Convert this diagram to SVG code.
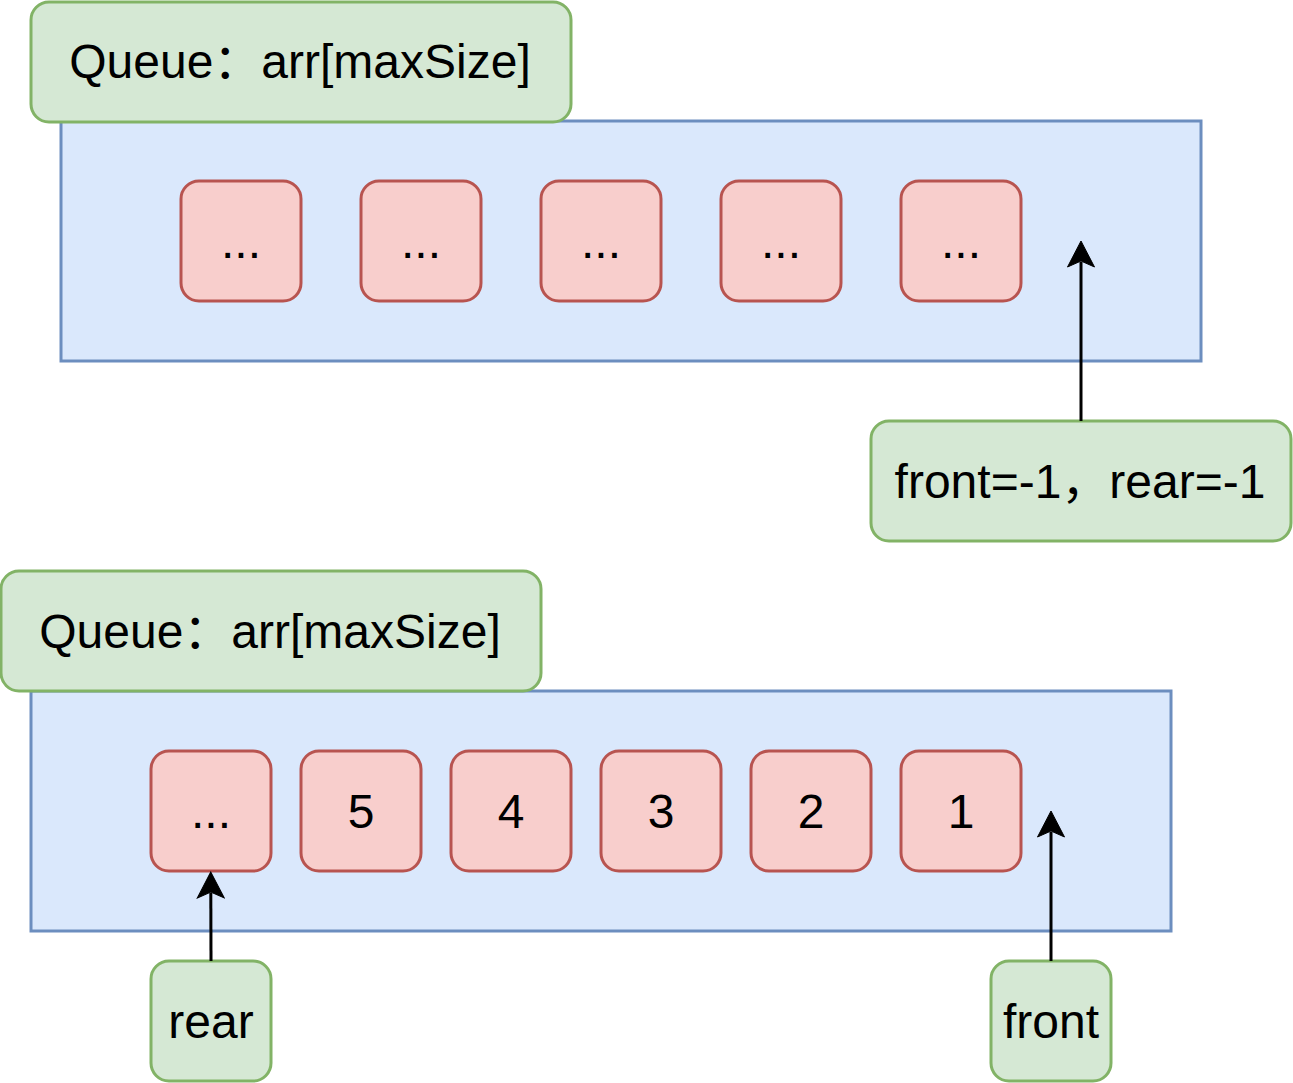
<svg xmlns="http://www.w3.org/2000/svg" width="1293" height="1083" viewBox="0 0 1293 1083">
  <style>
    .green { fill: #d5e8d4; stroke: #82b366; stroke-width: 3; }
    .blue { fill: #dae8fc; stroke: #6c8ebf; stroke-width: 3; }
    .red { fill: #f8cecc; stroke: #b85450; stroke-width: 3; }
    .t { font-family: "Liberation Sans", "Noto Sans CJK SC", sans-serif; font-size: 48px; fill: #000000; text-anchor: middle; }
    .edge { fill: none; stroke: #000000; stroke-width: 3; }
  </style>
  <defs>
    <marker id="arrow" markerUnits="userSpaceOnUse" markerWidth="28" markerHeight="29" viewBox="0 0 28 29" refX="6" refY="14.5" orient="auto">
      <path d="M1,1 L27,14.5 L1,28 L7,14.5 Z" fill="#000000" stroke="#000000" stroke-width="1"/>
    </marker>
  </defs>

  <rect width="1293" height="1083" fill="#ffffff"/>

  <!-- Top queue -->
  <g id="queue1">
    <rect class="blue" x="61" y="121" width="1140" height="240"/>
  </g>
  <g id="queue1-label">
    <rect class="green" x="31" y="2" width="540" height="120" rx="18" ry="18"/>
    <text class="t" x="300" y="78">Queue：arr[maxSize]</text>
  </g>
  <g id="q1-cell1">
    <rect class="red" x="181" y="181" width="120" height="120" rx="18" ry="18"/>
    <text class="t" x="241" y="258">...</text>
  </g>
  <g id="q1-cell2">
    <rect class="red" x="361" y="181" width="120" height="120" rx="18" ry="18"/>
    <text class="t" x="421" y="258">...</text>
  </g>
  <g id="q1-cell3">
    <rect class="red" x="541" y="181" width="120" height="120" rx="18" ry="18"/>
    <text class="t" x="601" y="258">...</text>
  </g>
  <g id="q1-cell4">
    <rect class="red" x="721" y="181" width="120" height="120" rx="18" ry="18"/>
    <text class="t" x="781" y="258">...</text>
  </g>
  <g id="q1-cell5">
    <rect class="red" x="901" y="181" width="120" height="120" rx="18" ry="18"/>
    <text class="t" x="961" y="258">...</text>
  </g>
  <g id="pointers1">
    <rect class="green" x="871" y="421" width="420" height="120" rx="18" ry="18"/>
    <text class="t" x="1080" y="498">front=-1，rear=-1</text>
  </g>

  <!-- Bottom queue -->
  <g id="queue2">
    <rect class="blue" x="31" y="691" width="1140" height="240"/>
  </g>
  <g id="queue2-label">
    <rect class="green" x="1" y="571" width="540" height="120" rx="18" ry="18"/>
    <text class="t" x="270" y="648">Queue：arr[maxSize]</text>
  </g>
  <g id="q2-cell-dots">
    <rect class="red" x="151" y="751" width="120" height="120" rx="18" ry="18"/>
    <text class="t" x="211" y="828">...</text>
  </g>
  <g id="q2-cell5">
    <rect class="red" x="301" y="751" width="120" height="120" rx="18" ry="18"/>
    <text class="t" x="361" y="828">5</text>
  </g>
  <g id="q2-cell4">
    <rect class="red" x="451" y="751" width="120" height="120" rx="18" ry="18"/>
    <text class="t" x="511" y="828">4</text>
  </g>
  <g id="q2-cell3">
    <rect class="red" x="601" y="751" width="120" height="120" rx="18" ry="18"/>
    <text class="t" x="661" y="828">3</text>
  </g>
  <g id="q2-cell2">
    <rect class="red" x="751" y="751" width="120" height="120" rx="18" ry="18"/>
    <text class="t" x="811" y="828">2</text>
  </g>
  <g id="q2-cell1">
    <rect class="red" x="901" y="751" width="120" height="120" rx="18" ry="18"/>
    <text class="t" x="961" y="828">1</text>
  </g>
  <g id="rear">
    <rect class="green" x="151" y="961" width="120" height="120" rx="18" ry="18"/>
    <text class="t" x="211" y="1038">rear</text>
  </g>
  <g id="front">
    <rect class="green" x="991" y="961" width="120" height="120" rx="18" ry="18"/>
    <text class="t" x="1051" y="1038">front</text>
  </g>

  <!-- Connectors -->
  <g id="connectors">
    <path class="edge" d="M1081,421 L1081,262" marker-end="url(#arrow)"/>
    <path class="edge" d="M211,961 L210.8,893" marker-end="url(#arrow)"/>
    <path class="edge" d="M1051,961 L1051,832" marker-end="url(#arrow)"/>
  </g>
</svg>
